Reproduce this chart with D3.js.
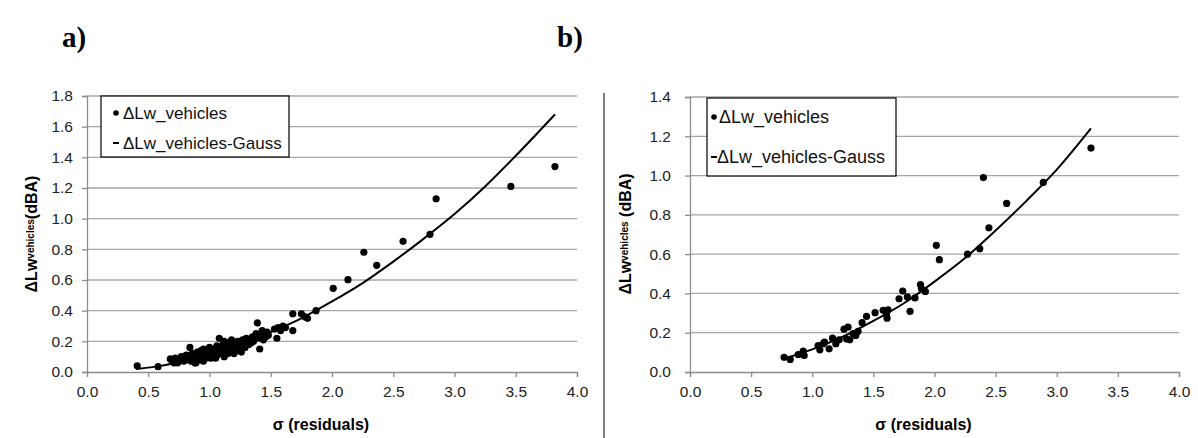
<!DOCTYPE html>
<html lang="en">
  <head>
    <meta charset="utf-8">
    <title>Delta Lw vs sigma</title>
    <script src="https://d3js.org/d3.v7.min.js"></script>
    <style>
      body { margin: 0; background: white; }
      text { font-family: "Liberation Sans", Arial, sans-serif; }
    </style>
  </head>
  <body>
    <script type="text/javascript">

      var w = 1198;
      var h = 438;

      // panel a) measured points [sigma, dLw]
      var pointsA = [
        [0.41, 0.04], [0.58, 0.035], [0.68, 0.085], [0.71, 0.06],
        [0.70, 0.07], [0.72, 0.09], [0.74, 0.06], [0.76, 0.08], [0.77, 0.10], [0.79, 0.07],
        [0.80, 0.09], [0.81, 0.11], [0.82, 0.08], [0.83, 0.10], [0.84, 0.16], [0.85, 0.07],
        [0.86, 0.12], [0.87, 0.09], [0.88, 0.11], [0.88, 0.06], [0.89, 0.06], [0.90, 0.13],
        [0.90, 0.09], [0.91, 0.10], [0.92, 0.12], [0.93, 0.08], [0.93, 0.14], [0.94, 0.11],
        [0.95, 0.10], [0.95, 0.15], [0.95, 0.07], [0.96, 0.12], [0.97, 0.09], [0.97, 0.13],
        [0.98, 0.11], [0.99, 0.14], [0.99, 0.10], [1.00, 0.12], [1.00, 0.16], [1.01, 0.09],
        [1.02, 0.13], [1.02, 0.11], [1.03, 0.15], [1.04, 0.12], [1.04, 0.10], [1.05, 0.14],
        [1.05, 0.09], [1.06, 0.17], [1.06, 0.11], [1.07, 0.13], [1.08, 0.15], [1.08, 0.22],
        [1.09, 0.12], [1.10, 0.16], [1.10, 0.14], [1.11, 0.18], [1.12, 0.13], [1.12, 0.20],
        [1.12, 0.10], [1.13, 0.15], [1.14, 0.17], [1.15, 0.12], [1.15, 0.19], [1.16, 0.16],
        [1.17, 0.14], [1.18, 0.18], [1.18, 0.21], [1.19, 0.15], [1.20, 0.17], [1.20, 0.12],
        [1.21, 0.19], [1.22, 0.14], [1.23, 0.20], [1.24, 0.17], [1.25, 0.18], [1.26, 0.13],
        [1.27, 0.21], [1.28, 0.19], [1.29, 0.16], [1.30, 0.22], [1.31, 0.20], [1.32, 0.18],
        [1.33, 0.21], [1.34, 0.19], [1.35, 0.23], [1.36, 0.20], [1.38, 0.25], [1.39, 0.32],
        [1.40, 0.22], [1.41, 0.15], [1.42, 0.24], [1.43, 0.27], [1.44, 0.21], [1.45, 0.25],
        [1.46, 0.23], [1.47, 0.26], [1.48, 0.24], [1.53, 0.28], [1.55, 0.22], [1.56, 0.29],
        [1.58, 0.27], [1.60, 0.30], [1.62, 0.29], [1.68, 0.38], [1.68, 0.27], [1.75, 0.38],
        [1.78, 0.36], [1.80, 0.35], [1.87, 0.40],
        [2.01, 0.546], [2.13, 0.602], [2.26, 0.781], [2.365, 0.696], [2.58, 0.852],
        [2.80, 0.898], [2.85, 1.13], [3.46, 1.21], [3.82, 1.34]
      ];

      // panel a) Gauss fit
      var gaussA = [
        [0.40, 0.02], [0.60, 0.04], [0.80, 0.075], [1.00, 0.115], [1.25, 0.18], [1.50, 0.26],
        [1.75, 0.35], [2.00, 0.46], [2.25, 0.58], [2.50, 0.72], [2.75, 0.87], [3.00, 1.03],
        [3.25, 1.21], [3.50, 1.41], [3.82, 1.68]
      ];

      // panel b) measured points
      var pointsB = [
        [0.77, 0.075], [0.82, 0.064], [0.885, 0.089], [0.926, 0.106], [0.934, 0.084],
        [1.048, 0.135], [1.062, 0.113], [1.09, 0.144], [1.10, 0.152], [1.138, 0.118],
        [1.166, 0.172], [1.193, 0.144], [1.22, 0.164], [1.26, 0.218], [1.28, 0.169],
        [1.293, 0.229], [1.307, 0.164], [1.334, 0.195], [1.356, 0.186], [1.375, 0.207],
        [1.408, 0.251], [1.444, 0.283], [1.514, 0.302], [1.58, 0.314], [1.607, 0.292],
        [1.62, 0.317], [1.612, 0.274], [1.71, 0.373], [1.74, 0.412], [1.778, 0.382],
        [1.80, 0.309], [1.84, 0.377], [1.885, 0.445], [1.893, 0.425], [1.925, 0.41],
        [2.015, 0.645], [2.04, 0.572], [2.27, 0.60], [2.37, 0.628], [2.40, 0.99],
        [2.445, 0.734], [2.59, 0.858], [2.89, 0.965], [3.28, 1.14]
      ];

      var gaussB = [
        [0.78, 0.07], [1.00, 0.115], [1.25, 0.18], [1.50, 0.26], [1.75, 0.35], [2.00, 0.46],
        [2.25, 0.58], [2.50, 0.72], [2.75, 0.87], [3.00, 1.03], [3.28, 1.24]
      ];

      var xTicks = [0, 0.5, 1.0, 1.5, 2.0, 2.5, 3.0, 3.5, 4.0];
      var yTicksA = [0, 0.2, 0.4, 0.6, 0.8, 1.0, 1.2, 1.4, 1.6, 1.8];
      var yTicksB = [0, 0.2, 0.4, 0.6, 0.8, 1.0, 1.2, 1.4];
      var legendNames = ["\u0394Lw_vehicles", "\u0394Lw_vehicles-Gauss"];

      var svg = d3.select("body")
          .append("svg")
          .attr("width", w)
          .attr("height", h);

      svg.append("rect")
          .attr("width", w)
          .attr("height", h)
          .attr("fill", "white");

      function drawPanel(p) {
        var xScale = d3.scaleLinear().domain([0, 4]).range([p.left, p.right]);
        var yScale = d3.scaleLinear().domain([0, p.ymax]).range([p.bottom, p.top]);
        var g = svg.append("g");

        // gridlines
        g.append("g").selectAll("line")
            .data(p.yTicks.slice(1))
            .enter().append("line")
            .attr("x1", p.left)
            .attr("x2", p.right)
            .attr("y1", function(d) { return yScale(d) })
            .attr("y2", function(d) { return yScale(d) })
            .style("stroke", "#a6a6a6")
            .style("stroke-width", "1.3px");

        var xAxis = d3.axisBottom(xScale)
            .tickValues(xTicks)
            .tickFormat(d3.format(".1f"))
            .tickSize(5)
            .tickPadding(9);
        var yAxis = d3.axisLeft(yScale)
            .tickValues(p.yTicks)
            .tickFormat(d3.format(".1f"))
            .tickSize(5)
            .tickPadding(p.yPad);

        var gx = g.append("g")
            .attr("transform", `translate(0, ${p.bottom})`)
            .call(xAxis);
        var gy = g.append("g")
            .attr("transform", `translate(${p.left}, 0)`)
            .call(yAxis);
        [gx, gy].forEach(function(a) {
          a.select(".domain").attr("stroke", "#8c8c8c").attr("stroke-width", 1.3);
          a.selectAll(".tick line").attr("stroke", "#8c8c8c").attr("stroke-width", 1.3);
          a.selectAll(".tick text")
              .attr("fill", "#222")
              .style("font-size", "15.5px")
              .style("font-family", "'Liberation Sans', Arial, sans-serif");
        });

        // fit curve
        var line = d3.line()
            .x(function(d) { return xScale(d[0]) })
            .y(function(d) { return yScale(d[1]) })
            .curve(d3.curveMonotoneX);
        g.append("path")
            .datum(p.gauss)
            .attr("d", line)
            .attr("fill", "none")
            .attr("stroke", "black")
            .attr("stroke-width", 2);

        // dots
        g.append("g").selectAll("circle")
            .data(p.points)
            .enter().append("circle")
            .attr("cx", function(d) { return xScale(d[0]) })
            .attr("cy", function(d) { return yScale(d[1]) })
            .attr("r", 3.6)
            .attr("fill", "black");

        // axis titles
        g.append("text")
            .attr("x", (p.left + p.right) / 2 - 11)
            .attr("y", 430)
            .attr("text-anchor", "middle")
            .style("font-size", "16px")
            .style("font-weight", "bold")
            .text("\u03c3 (residuals)");

        var yt = g.append("text")
            .attr("transform", `translate(${p.ylabX}, 234) rotate(-90)`)
            .attr("text-anchor", "middle")
            .style("font-size", "16px")
            .style("font-weight", "bold");
        yt.append("tspan").text("\u0394Lw");
        yt.append("tspan").attr("dy", -3).style("font-size", "10px").text("vehicles");
        yt.append("tspan").attr("dy", 3).text(p.ylabSep + "(dBA)");

        // legend
        var lg = g.append("g");
        lg.append("rect")
            .attr("x", p.legX)
            .attr("y", p.legY)
            .attr("width", p.legW)
            .attr("height", p.legH)
            .attr("fill", "white")
            .attr("stroke", "black")
            .attr("stroke-width", 1.2);
        lg.append("circle")
            .attr("cx", p.legX + p.mark)
            .attr("cy", p.legRows[0])
            .attr("r", 2.8)
            .attr("fill", "black");
        lg.append("line")
            .attr("x1", p.legX + p.mark - 3)
            .attr("x2", p.legX + p.mark + 3)
            .attr("y1", p.legRows[1])
            .attr("y2", p.legRows[1])
            .attr("stroke", "black")
            .attr("stroke-width", 2);
        lg.selectAll("text")
            .data(legendNames)
            .enter().append("text")
            .attr("x", function(d, i) { return p.legX + p.textX[i] })
            .attr("y", function(d, i) { return p.legRows[i] + 6 })
            .style("font-size", p.legFont + "px")
            .attr("fill", "#111")
            .text(function(d) { return d });
      }

      drawPanel({left: 87, right: 577, top: 96, bottom: 372, ymax: 1.8, yTicks: yTicksA, yPad: 9,
                 points: pointsA, gauss: gaussA, ylabX: 37, ylabSep: "",
                 legX: 101, legY: 96, legW: 188, legH: 61, legRows: [113, 143], mark: 15,
                 textX: [22, 22], legFont: 17});
      drawPanel({left: 690, right: 1179, top: 97, bottom: 372, ymax: 1.4, yTicks: yTicksB, yPad: 14,
                 points: pointsB, gauss: gaussB, ylabX: 631, ylabSep: " ",
                 legX: 707, legY: 98, legW: 189, legH: 78, legRows: [117, 157], mark: 7,
                 textX: [12, 10], legFont: 18});

      // separator
      svg.append("line")
          .attr("x1", 604).attr("x2", 604)
          .attr("y1", 93).attr("y2", h)
          .attr("stroke", "black")
          .attr("stroke-width", 1);

      // panel letters
      svg.selectAll(".plabel")
          .data([["a)", 62], ["b)", 557]])
          .enter().append("text")
          .attr("x", function(d) { return d[1] })
          .attr("y", 47)
          .style("font-family", "'Liberation Serif', 'Times New Roman', serif")
          .style("font-weight", "bold")
          .style("font-size", "29px")
          .text(function(d) { return d[0] });

    </script>
  </body>
</html>
